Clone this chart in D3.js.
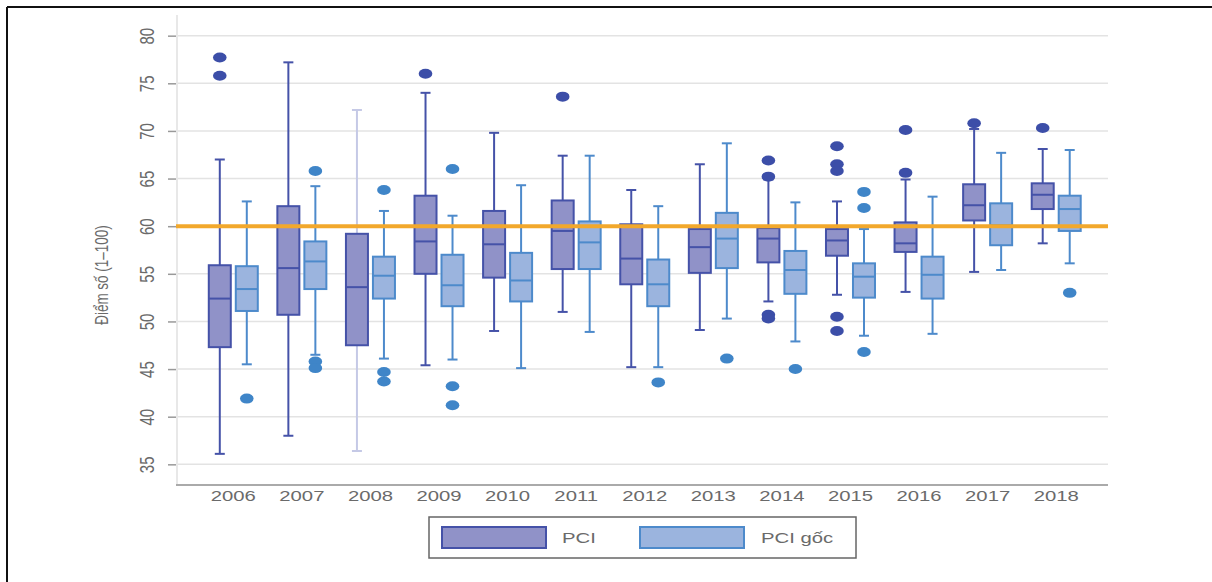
<!DOCTYPE html>
<html>
<head>
<meta charset="utf-8">
<script src="https://cdn.jsdelivr.net/npm/d3@7"></script>
<style>
  body { margin: 0; background: #fff; }
  svg text { font-family: "Liberation Sans", Arial, sans-serif; fill: #6a6a6a; }
</style>
</head>
<body>
<svg id="chart" width="1212" height="582"></svg>
<script>
// years on the x axis
var years = ["2006", "2007", "2008", "2009", "2010", "2011", "2012", "2013", "2014", "2015", "2016", "2017", "2018"];

// box stats per year: [low whisker, q1, median, q3, high whisker]
var pciStats = [
    [36.1, 47.3, 52.4, 55.9, 67.0],
    [38.0, 50.7, 55.6, 62.1, 77.2],
    [36.4, 47.5, 53.6, 59.2, 72.2],
    [45.4, 55.0, 58.4, 63.2, 74.0],
    [49.0, 54.6, 58.1, 61.6, 69.8],
    [51.0, 55.5, 59.5, 62.7, 67.4],
    [45.2, 53.9, 56.6, 60.2, 63.8],
    [49.1, 55.1, 57.8, 59.7, 66.5],
    [52.1, 56.2, 58.7, 59.8, 64.9],
    [52.8, 56.9, 58.5, 59.7, 62.6],
    [53.1, 57.3, 58.2, 60.4, 64.9],
    [55.2, 60.6, 62.2, 64.4, 70.2],
    [58.2, 61.8, 63.3, 64.5, 68.1]
];
var pciOutliers = [
    [77.7, 75.8], [], [], [76.0], [], [73.6], [], [],
    [66.9, 65.2, 50.7, 50.3],
    [68.4, 66.5, 65.8, 50.5, 49.0],
    [70.1, 65.6], [70.8], [70.3]
];

var gocStats = [
    [45.5, 51.1, 53.4, 55.8, 62.6],
    [46.5, 53.4, 56.3, 58.4, 64.2],
    [46.1, 52.4, 54.8, 56.8, 61.6],
    [46.0, 51.6, 53.8, 57.0, 61.1],
    [45.1, 52.1, 54.3, 57.2, 64.3],
    [48.9, 55.5, 58.3, 60.5, 67.4],
    [45.2, 51.6, 53.9, 56.5, 62.1],
    [50.3, 55.6, 58.7, 61.4, 68.7],
    [47.9, 52.9, 55.4, 57.4, 62.5],
    [48.5, 52.5, 54.7, 56.1, 59.7],
    [48.7, 52.4, 54.9, 56.8, 63.1],
    [55.4, 58.0, 60.1, 62.4, 67.7],
    [56.1, 59.5, 61.8, 63.2, 68.0]
];
var gocOutliers = [
    [41.9], [65.8, 45.8, 45.1], [63.8, 44.7, 43.7], [66.0, 43.2, 41.2], [],
    [], [43.6], [46.1], [45.0], [63.6, 61.9, 46.8], [], [], [53.0]
];

var yTicks = [35, 40, 45, 50, 55, 60, 65, 70, 75, 80];
var refLine = 60;
var seriesNames = ["PCI", "PCI g\u1ed1c"];

// the source picture is stretched sideways, so text gets the same stretch
var stretch = 1.4;

var svg = d3.select("#chart");

var plotLeft = 176, plotRight = 1108, plotTop = 15, plotBottom = 485;

var x = d3.scaleBand()
    .domain(years)
    .range([199, 1090.5]);

var y = d3.scaleLinear()
    .domain([32.83, 82.17])
    .range([plotBottom, plotTop]);

var series = [
    { name: seriesNames[0], stats: pciStats, outliers: pciOutliers, offset: -13.5,
      fill: "#9092c8", stroke: "#4552a8", dot: "#3c4ea8" },
    { name: seriesNames[1], stats: gocStats, outliers: gocOutliers, offset: 13.5,
      fill: "#9bb4de", stroke: "#4d8acb", dot: "#3f85c8" }
];
var boxW = 22, capW = 10;

// frame of the scanned figure (only top and left edges show)
svg.append("line").attr("x1", 7).attr("x2", 1212).attr("y1", 7).attr("y2", 7)
    .attr("stroke", "#111").attr("stroke-width", 2);
svg.append("line").attr("x1", 7).attr("x2", 7).attr("y1", 7).attr("y2", 582)
    .attr("stroke", "#111").attr("stroke-width", 2);

// grid
svg.append("g").selectAll("line")
    .data(yTicks)
    .enter().append("line")
    .attr("x1", plotLeft).attr("x2", plotRight)
    .attr("y1", function(d) { return y(d); })
    .attr("y2", function(d) { return y(d); })
    .attr("stroke", "#e3e3e3").attr("stroke-width", 1.5);

// y axis
var yAxis = svg.append("g")
    .attr("transform", "translate(" + plotLeft + ",0)")
    .call(d3.axisLeft(y).tickValues(yTicks).tickSize(8).tickSizeOuter(0).tickPadding(0));
yAxis.select(".domain").remove();
yAxis.selectAll(".tick line").attr("stroke", "#999").attr("stroke-width", 1.5);
yAxis.selectAll(".tick text")
    .attr("x", null).attr("dy", null)
    .attr("text-anchor", "middle")
    .style("font-size", "15px")
    .attr("transform", "translate(-29,0) scale(" + stretch + ",1) rotate(-90) translate(0,5)");

svg.append("line")
    .attr("x1", plotLeft + 1).attr("x2", plotLeft + 1)
    .attr("y1", plotTop).attr("y2", plotBottom)
    .attr("stroke", "#e8e8e8").attr("stroke-width", 2);

// y label
svg.append("text")
    .attr("text-anchor", "middle")
    .attr("transform", "translate(108,275) scale(" + stretch + ",1) rotate(-90)")
    .style("font-size", "13.5px")
    .text("\u0110i\u1ec3m s\u1ed1 (1\u2013100)");

// x axis
svg.append("line")
    .attr("x1", plotLeft).attr("x2", plotRight)
    .attr("y1", plotBottom).attr("y2", plotBottom)
    .attr("stroke", "#aaa").attr("stroke-width", 2);

svg.append("g").selectAll("text")
    .data(years)
    .enter().append("text")
    .attr("text-anchor", "middle")
    .attr("transform", function(d) {
        return "translate(" + (x(d) + x.bandwidth() / 2) + ",501) scale(" + stretch + ",1)";
    })
    .style("font-size", "14.5px")
    .text(function(d) { return d; });

// boxes
series.forEach(function(s) {
    var g = svg.append("g");
    years.forEach(function(yr, i) {
        var st = s.stats[i];
        var cx = x(yr) + x.bandwidth() / 2 + s.offset;
        // 2008 PCI whiskers are printed faint in the source
        var wColor = (s.name == "PCI" && yr == "2008") ? "#c5c9e6" : s.stroke;

        g.append("line")
            .attr("x1", cx).attr("x2", cx)
            .attr("y1", y(st[4])).attr("y2", y(st[3]))
            .attr("stroke", wColor).attr("stroke-width", 2);
        g.append("line")
            .attr("x1", cx).attr("x2", cx)
            .attr("y1", y(st[1])).attr("y2", y(st[0]))
            .attr("stroke", wColor).attr("stroke-width", 2);
        [st[0], st[4]].forEach(function(v) {
            g.append("line")
                .attr("x1", cx - capW / 2).attr("x2", cx + capW / 2)
                .attr("y1", y(v)).attr("y2", y(v))
                .attr("stroke", wColor).attr("stroke-width", 2);
        });

        g.append("rect")
            .attr("x", cx - boxW / 2)
            .attr("width", boxW)
            .attr("y", y(st[3]))
            .attr("height", y(st[1]) - y(st[3]))
            .attr("fill", s.fill)
            .attr("stroke", s.stroke).attr("stroke-width", 2);
        g.append("line")
            .attr("x1", cx - boxW / 2).attr("x2", cx + boxW / 2)
            .attr("y1", y(st[2])).attr("y2", y(st[2]))
            .attr("stroke", s.stroke).attr("stroke-width", 2);

        g.selectAll(null)
            .data(s.outliers[i])
            .enter().append("ellipse")
            .attr("cx", cx)
            .attr("cy", function(d) { return y(d); })
            .attr("rx", 6.8).attr("ry", 5)
            .attr("fill", s.dot);
    });
});

// reference line at 60
svg.append("line")
    .attr("x1", plotLeft).attr("x2", plotRight)
    .attr("y1", y(refLine)).attr("y2", y(refLine))
    .attr("stroke", "#f2a82c").attr("stroke-width", 4);

// legend
var legend = svg.append("g");
legend.append("rect")
    .attr("x", 429).attr("y", 517).attr("width", 427).attr("height", 41)
    .attr("fill", "#fff").attr("stroke", "#666").attr("stroke-width", 1.5);

var legX = [442, 640], legTextX = [562, 761];
series.forEach(function(s, i) {
    legend.append("rect")
        .attr("x", legX[i]).attr("y", 527).attr("width", 104).attr("height", 21)
        .attr("fill", s.fill).attr("stroke", s.stroke).attr("stroke-width", 2);
    legend.append("text")
        .attr("transform", "translate(" + legTextX[i] + ",543) scale(" + stretch + ",1)")
        .style("font-size", "14.5px")
        .text(s.name);
});
</script>
</body>
</html>
